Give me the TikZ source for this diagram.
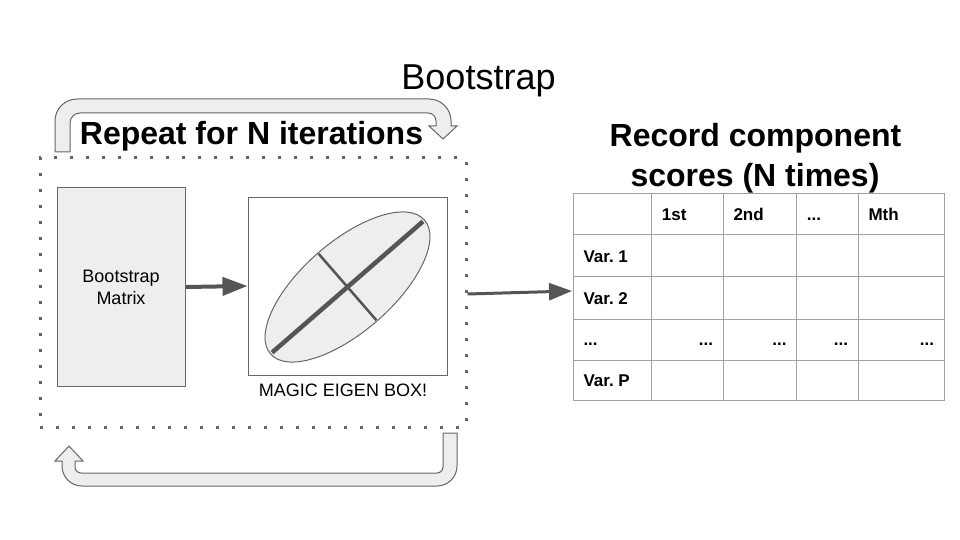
\documentclass[tikz,border=0pt]{standalone}
\usepackage{fontspec}
\setmainfont{Liberation Sans}
\usetikzlibrary{arrows.meta}
\definecolor{boxfill}{HTML}{EEEEEE}
\definecolor{edge}{HTML}{666666}
\definecolor{dark}{HTML}{555555}
\definecolor{gridc}{HTML}{A0A0A0}
\frenchspacing
\begin{document}
\begin{tikzpicture}[x=1pt,y=-1pt,
  bigtitle/.style={font=\fontsize{36}{43}\selectfont, inner sep=0, anchor=base},
  boldtitle/.style={font=\fontsize{32}{38}\selectfont\bfseries, inner sep=0, anchor=base},
  cell/.style={font=\fontsize{17}{20}\selectfont\bfseries, inner sep=0},
  flow/.style={draw=dark, line width=4pt, -{Triangle[length=25pt,width=18pt]}},
  flowb/.style={draw=dark, line width=3pt, -{Triangle[length=23pt,width=17pt]}},
  loopbox/.style={draw=edge, line width=3pt, dash pattern=on 3pt off 13pt, inner sep=0},
  uarrow/.style={draw=edge, fill=boxfill, line width=1pt, line join=miter},
  gridline/.style={draw=gridc, line width=1pt}]
\useasboundingbox (0,0) rectangle (960,540);

% titles
\node[bigtitle] (title) at (478.5,90) {Bootstrap};
\node[boldtitle] (repeat) at (251.5,145) {Repeat for N iterations};
\node[boldtitle] (rec1) at (755.5,147) {Record component};
\node[boldtitle] (rec2) at (755,186) {scores (N times)};

% dotted loop box
\node[loopbox, minimum width=426pt, minimum height=269pt] (loop) at (253,292.5) {};

% bootstrap matrix
\node[draw=edge, fill=boxfill, line width=1pt, minimum width=128pt, minimum height=199pt,
      align=center, inner sep=0, font=\fontsize{18}{22}\selectfont] (bmat) at (121,287) {Bootstrap\\Matrix};

% eigen box
\node[draw=edge, line width=1pt, minimum width=199pt, minimum height=178pt, inner sep=0] (eig) at (347.5,286) {};
\begin{scope}[shift={(347.5,287)}, rotate=41]
  \draw[draw=edge, fill=boxfill, line width=1pt] (0,0) ellipse [x radius=102, y radius=45];
  \draw[dark, line width=4.5pt] (-100,0) -- (100,0);
  \draw[dark, line width=2.5pt] (0,-44) -- (0,44);
\end{scope}
\node[font=\fontsize{18}{22}\selectfont, inner sep=0, anchor=base] (caption) at (343,396) {MAGIC EIGEN BOX!};

% arrows
\draw[flow] (bmat.east) -- (eig.west);
\coordinate (tin) at (572,291);
\draw[flowb] ([yshift=-1.5pt]loop.east) -- (tin);

% top U-turn arrow
\draw[uarrow] (55,152) -- (55,121) .. controls (55,108.85) and (64.85,99) .. (77,99)
  -- (429,99) .. controls (441.15,99) and (451,108.85) .. (451,121)
  -- (451,126) -- (457,126) -- (443,139) -- (429,126) -- (436,126)
  -- (436,121) .. controls (436,116.58) and (432.42,113) .. (428,113)
  -- (80,113) .. controls (74.48,113) and (70,117.48) .. (70,123)
  -- (70,152) -- cycle;

% bottom U-turn arrow
\draw[uarrow] (457,433) -- (457,466) .. controls (457,477.05) and (448.05,486) .. (437,486)
  -- (82,486) .. controls (70.95,486) and (62,477.05) .. (62,466)
  -- (62,461) -- (55,461) -- (69,446) -- (83,461) -- (75,461)
  -- (75,467) .. controls (75,470.31) and (77.69,473) .. (81,473)
  -- (437,473) .. controls (440.31,473) and (443,470.31) .. (443,467)
  -- (443,433) -- cycle;

% table
\node[gridline, minimum width=371pt, minimum height=206.7pt, inner sep=0] (tbl) at (758.8,296.65) {};
\foreach \cx in {651.7,723.3,796.7,858.3} \draw[gridline] (\cx,193.3) -- (\cx,400);
\foreach \ry in {234.3,276.7,319,360} \draw[gridline] (573.3,\ry) -- (944.3,\ry);

\node[cell, anchor=base west] (h1) at (661.7,220) {1st};
\node[cell, anchor=base west] (h2) at (733.3,220) {2nd};
\node[cell, anchor=base west] (h3) at (806.7,220) {...};
\node[cell, anchor=base west] (h4) at (868.3,220) {Mth};
\node[cell, anchor=base west] (v1) at (583.3,262) {Var. 1};
\node[cell, anchor=base west] (v2) at (583.3,304) {Var. 2};
\node[cell, anchor=base west] (v3) at (583.3,345) {...};
\node[cell, anchor=base west] (v4) at (583.3,386) {Var. P};
\node[cell, anchor=base east] (d1) at (713.3,345) {...};
\node[cell, anchor=base east] (d2) at (786.7,345) {...};
\node[cell, anchor=base east] (d3) at (848.3,345) {...};
\node[cell, anchor=base east] (d4) at (934.3,345) {...};
\end{tikzpicture}
\end{document}
